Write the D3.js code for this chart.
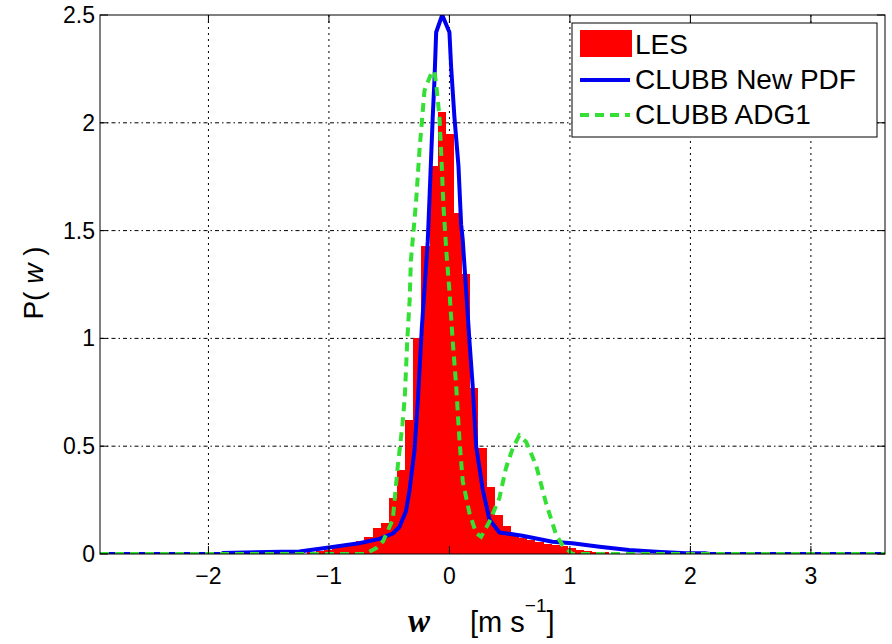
<!DOCTYPE html>
<html>
<head>
<meta charset="utf-8">
<script src="https://cdn.jsdelivr.net/npm/d3@7"></script>
<style>
  body { margin: 0; background: #fff; }
  text { font-family: "Liberation Sans", Arial, sans-serif; fill: #000; }
</style>
</head>
<body>
<div id="chart"></div>
<script>
// LES histogram (bin centres, density)
var binWidth = 0.0676;
var lesCenters = [-1.1451, -1.0775, -1.0099, -0.9423, -0.8747, -0.8071, -0.7395, -0.6719, -0.6043, -0.5367,
  -0.4691, -0.4015, -0.3339, -0.2663, -0.1987, -0.1311, -0.0635, 0.0041, 0.0717, 0.1393,
  0.2069, 0.2745, 0.3421, 0.4097, 0.4773, 0.5449, 0.6125, 0.6801, 0.7477, 0.8153,
  0.8829, 0.9505, 1.0181, 1.0857, 1.1533, 1.2209, 1.2885];
var lesDensity = [0.01, 0.015, 0.02, 0.028, 0.035, 0.045, 0.06, 0.08, 0.12, 0.145,
  0.26, 0.39, 0.62, 1.0, 1.43, 1.8, 2.05, 1.95, 1.58, 1.3,
  0.77, 0.49, 0.31, 0.18, 0.13, 0.09, 0.075, 0.065, 0.055, 0.048,
  0.042, 0.035, 0.028, 0.02, 0.015, 0.01, 0.007];

// CLUBB New PDF
var newPdfW = [-2.9, -1.89, -1.88, -1.39, -1.245, -1.0, -0.75, -0.58, -0.47, -0.415, -0.36, -0.33, -0.29, -0.26, -0.23, -0.18,
  -0.166, -0.139, -0.124, -0.11, -0.06, 0.0, 0.014, 0.041, 0.075, 0.097, 0.11, 0.139, 0.166, 0.193,
  0.222, 0.276, 0.332, 0.415, 0.606, 0.855, 1.02, 1.245, 1.49, 1.715, 1.96, 2.13, 2.16, 3.615];
var newPdfP = [0, 0, 0.005, 0.01, 0.012, 0.03, 0.05, 0.07, 0.095, 0.125, 0.2, 0.3, 0.48, 0.73, 1.04, 1.45,
  1.64, 2.02, 2.2, 2.42, 2.5, 2.42, 2.26, 2.03, 1.8, 1.53, 1.46, 1.22, 0.99, 0.78,
  0.5, 0.3, 0.16, 0.1, 0.085, 0.057, 0.05, 0.034, 0.019, 0.011, 0.004, 0.003, 0, 0];

// CLUBB ADG1
var adgW = [-2.9, -0.9, -0.7, -0.6, -0.55, -0.47, -0.43, -0.39, -0.37, -0.35, -0.33, -0.32, -0.29, -0.276,
  -0.249, -0.207, -0.15, -0.125, -0.11, -0.083, -0.069, -0.05, -0.025, 0.0, 0.027, 0.056, 0.083, 0.11,
  0.166, 0.222, 0.263, 0.332, 0.415, 0.47, 0.525, 0.58, 0.637, 0.72, 0.8, 0.885, 0.94, 1.02, 3.615];
var adgP = [0, 0, 0, 0.03, 0.06, 0.16, 0.4, 0.6, 0.73, 0.99, 1.18, 1.36, 1.55, 1.64,
  1.87, 2.15, 2.23, 2.24, 2.18, 2.03, 1.87, 1.62, 1.4, 1.22, 0.99, 0.78, 0.53, 0.34,
  0.19, 0.097, 0.08, 0.15, 0.26, 0.4, 0.49, 0.55, 0.52, 0.41, 0.24, 0.09, 0.04, 0, 0];

var xTicks = [-2, -1, 0, 1, 2, 3];
var yTicks = [0, 0.5, 1, 1.5, 2, 2.5];
var legendNames = ["LES", "CLUBB New PDF", "CLUBB ADG1"];

var width = 892, height = 644;
var margin = {top: 15, right: 7, bottom: 90, left: 100};
var innerW = width - margin.left - margin.right;
var innerH = height - margin.top - margin.bottom;

var x = d3.scaleLinear().domain([-2.9, 3.615]).range([0, innerW]);
var y = d3.scaleLinear().domain([0, 2.5]).range([innerH, 0]);

var svg = d3.select("#chart").append("svg")
  .attr("width", width)
  .attr("height", height);

svg.append("defs").append("clipPath").attr("id", "clip")
  .append("rect").attr("width", innerW).attr("height", innerH);

var g = svg.append("g")
  .attr("transform", "translate(" + margin.left + "," + margin.top + ")");

// grid
g.append("g").selectAll("line.vgrid")
  .data(xTicks).enter().append("line")
  .attr("x1", function(d) { return x(d); })
  .attr("x2", function(d) { return x(d); })
  .attr("y1", 0).attr("y2", innerH)
  .attr("stroke", "#000").attr("stroke-width", 1)
  .attr("stroke-dasharray", "2,4");
g.append("g").selectAll("line.hgrid")
  .data(yTicks.filter(function(d) { return d > 0 && d < 2.5; })).enter().append("line")
  .attr("x1", 0).attr("x2", innerW)
  .attr("y1", function(d) { return y(d); })
  .attr("y2", function(d) { return y(d); })
  .attr("stroke", "#000").attr("stroke-width", 1)
  .attr("stroke-dasharray", "4,3,1.5,3");

var plot = g.append("g").attr("clip-path", "url(#clip)");

// bars
plot.selectAll("rect.bar")
  .data(lesCenters).enter().append("rect")
  .attr("x", function(d) { return x(d - binWidth / 2); })
  .attr("width", function(d) { return x(d + binWidth / 2) - x(d - binWidth / 2); })
  .attr("y", function(d, i) { return y(lesDensity[i]); })
  .attr("height", function(d, i) { return y(0) - y(lesDensity[i]); })
  .attr("fill", "#ff0000")
  .attr("shape-rendering", "crispEdges");

var line = d3.line()
  .x(function(d) { return x(d[0]); })
  .y(function(d) { return y(d[1]); });

plot.append("path")
  .datum(d3.zip(newPdfW, newPdfP))
  .attr("d", line)
  .attr("fill", "none")
  .attr("stroke", "#0000f0")
  .attr("stroke-width", 4)
  .attr("stroke-linejoin", "round");

plot.append("path")
  .datum(d3.zip(adgW, adgP))
  .attr("d", line)
  .attr("fill", "none")
  .attr("stroke", "#33e033")
  .attr("stroke-width", 4)
  .attr("stroke-dasharray", "9,6");

// box and ticks
g.append("rect")
  .attr("width", innerW).attr("height", innerH)
  .attr("fill", "none").attr("stroke", "#000").attr("stroke-width", 1);

var tickLen = 8;
xTicks.forEach(function(t) {
  g.append("line").attr("x1", x(t)).attr("x2", x(t)).attr("y1", innerH).attr("y2", innerH - tickLen).attr("stroke", "#000");
  g.append("line").attr("x1", x(t)).attr("x2", x(t)).attr("y1", 0).attr("y2", tickLen).attr("stroke", "#000");
  g.append("text").attr("x", x(t)).attr("y", innerH + 30)
    .attr("text-anchor", "middle").style("font-size", "23px")
    .text(t < 0 ? "\u2212" + Math.abs(t) : t);
});
yTicks.forEach(function(t) {
  g.append("line").attr("x1", 0).attr("x2", tickLen).attr("y1", y(t)).attr("y2", y(t)).attr("stroke", "#000");
  g.append("line").attr("x1", innerW).attr("x2", innerW - tickLen).attr("y1", y(t)).attr("y2", y(t)).attr("stroke", "#000");
  g.append("text").attr("x", -5).attr("y", y(t) + 8)
    .attr("text-anchor", "end").style("font-size", "23px")
    .text(t);
});

// axis labels
var xl = svg.append("text").attr("x", 408).attr("y", 632).style("font-size", "29px");
xl.append("tspan").style("font-family", "'Liberation Serif', 'Times New Roman', serif")
  .style("font-style", "italic").style("font-weight", "bold").style("font-size", "33px").text("w");
xl.append("tspan").attr("x", 470).text("[m s");
xl.append("tspan").attr("dy", -20).style("font-size", "19px").text("\u22121");
xl.append("tspan").attr("dy", 20).text("]");

svg.append("text")
  .attr("transform", "translate(43,283) rotate(-90)")
  .attr("text-anchor", "middle")
  .style("font-size", "28px")
  .html('P( <tspan font-style="italic">w</tspan> )');

// legend
var lg = svg.append("g").attr("transform", "translate(572,23)");
lg.append("rect").attr("width", 305).attr("height", 114)
  .attr("fill", "#fff").attr("stroke", "#000").attr("stroke-width", 1);
lg.append("rect").attr("x", 8).attr("y", 7).attr("width", 52).attr("height", 27).attr("fill", "#ff0000");
lg.append("line").attr("x1", 8).attr("x2", 58).attr("y1", 57).attr("y2", 57)
  .attr("stroke", "#0000f0").attr("stroke-width", 4);
lg.append("line").attr("x1", 8).attr("x2", 58).attr("y1", 92).attr("y2", 92)
  .attr("stroke", "#33e033").attr("stroke-width", 4).attr("stroke-dasharray", "9,6");
lg.selectAll("text.leg")
  .data(legendNames).enter().append("text")
  .attr("x", 63)
  .attr("y", function(d, i) { return 31 + i * 35; })
  .style("font-size", "28px")
  .text(function(d) { return d; });
</script>
</body>
</html>
